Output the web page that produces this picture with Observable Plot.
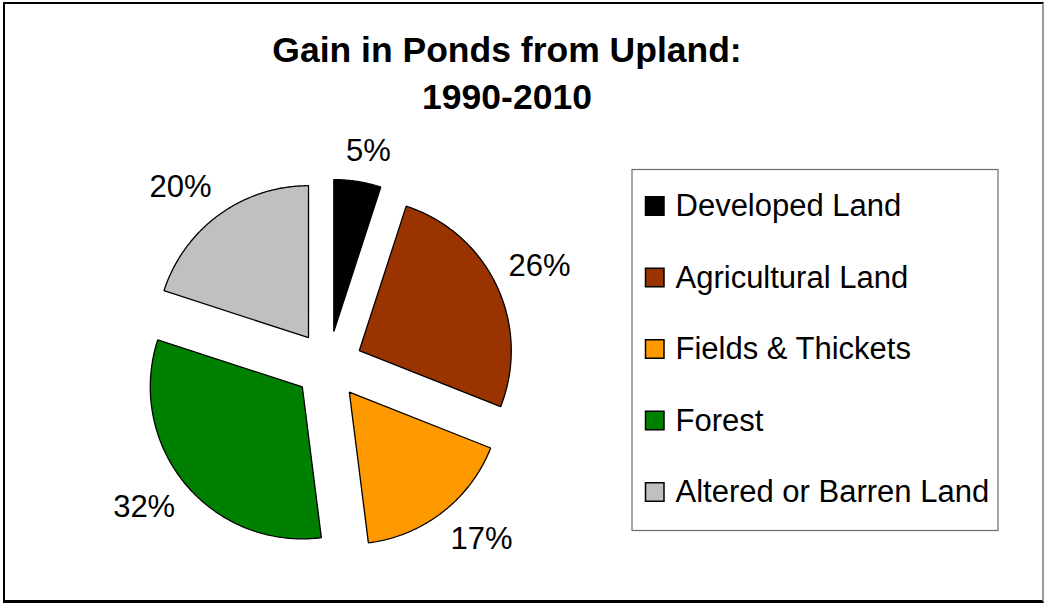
<!DOCTYPE html>
<html>
<head>
<meta charset="utf-8">
<script src="https://cdn.jsdelivr.net/npm/d3@7"></script>
<script src="https://cdn.jsdelivr.net/npm/@observablehq/plot@0.6"></script>
<style>
  html, body { margin: 0; padding: 0; background: #fff; }
  #wrap { position: relative; width: 1045px; height: 603px; overflow: hidden; font-family: "Liberation Sans", Arial, sans-serif; }
  #border { position: absolute; left: 3px; top: 2px; width: 1041px; height: 601px; box-sizing: border-box;
            border-left: 2px solid #000; border-top: 2px solid #000; border-right: 2px solid #9a9a9a; border-bottom: 3px solid #000; pointer-events: none; }
  #title { position: absolute; left: 0; top: 27px; width: 1014px; text-align: center; font-weight: bold; font-size: 35.5px; line-height: 46.6px; color: #000; }
  #chart { position: absolute; left: 0; top: 130px; }
</style>
</head>
<body>
<div id="wrap">
  <div id="title">Gain in Ponds from Upland:<br>1990-2010</div>
  <div id="chart"></div>
  <div id="border"></div>
</div>
<script>
// ---- data ----
const categories = ["Developed Land", "Agricultural Land", "Fields & Thickets", "Forest", "Altered or Barren Land"];
const shares = [5, 26, 17, 32, 20];
const colors = ["#000000", "#993300", "#FF9900", "#008000", "#C0C0C0"];
const pctLabels = ["5%", "26%", "17%", "32%", "20%"];

// ---- layout ----
const W = 1045, H = 473;
const CX = 328, CY = 234.7, R = 152, EXPLODE = 34, GAPX = 13, GAPY = 20;
const FS = 31;
const LEG = {x1: 632, y1: 39.5, x2: 998, y2: 400.5, swX: 645.5, sw: 18.5, textX: 675, firstY: 76, stepY: 71.5};

const rows = categories.map((c, i) => ({key: c, share: shares[i], label: pctLabels[i], i}));
const arcs = d3.pie().sort(null).value(d => d.share)(rows);

const slicePts = [];
const labelPts = [];
const clamp = v => Math.max(-1, Math.min(1, v));
arcs.forEach(a => {
  const key = a.data.key;
  const mid = (a.startAngle + a.endAngle) / 2;
  const ux = Math.sin(mid), uy = -Math.cos(mid);
  const ox = CX + EXPLODE * ux, oy = CY + EXPLODE * uy;
  slicePts.push({key, x: ox, y: oy});
  const n = Math.max(2, Math.ceil((a.endAngle - a.startAngle) / (Math.PI / 360)));
  for (let k = 0; k <= n; k++) {
    const t = a.startAngle + (a.endAngle - a.startAngle) * k / n;
    slicePts.push({key, x: ox + R * Math.sin(t), y: oy - R * Math.cos(t)});
  }
  const txt = a.data.label;
  const hw = ((txt.length - 1) * 0.556 + 0.889) * FS / 2;
  const hh = 11;
  const mx = CX + (R + EXPLODE) * ux, my = CY + (R + EXPLODE) * uy;
  labelPts.push({text: txt, x: mx + GAPX * ux + hw * clamp(2.5 * ux), y: my + GAPY * uy + hh * clamp(2.5 * uy)});
});

const plot = Plot.plot({
  width: W, height: H,
  marginTop: 0, marginRight: 0, marginBottom: 0, marginLeft: 0,
  x: {type: "linear", domain: [0, W], range: [0, W], axis: null},
  y: {type: "linear", domain: [0, H], range: [0, H], axis: null},
  color: {domain: categories, range: colors},
  style: {fontFamily: "'Liberation Sans', Arial, sans-serif", background: "transparent", overflow: "visible"},
  marks: [
    Plot.line(slicePts, {x: "x", y: "y", z: "key", fill: "key", stroke: "#000", strokeWidth: 1.3, curve: "linear-closed", strokeLinejoin: "miter"}),
    Plot.text(labelPts, {x: "x", y: "y", text: "text", fontSize: FS, fill: "#000", textAnchor: "middle", lineAnchor: "middle"}),
    Plot.rect([LEG], {x1: "x1", x2: "x2", y1: "y1", y2: "y2", fill: "#fff", stroke: "#6a6a6a", strokeWidth: 1.2}),
    Plot.rect(rows, {x1: () => LEG.swX, x2: () => LEG.swX + LEG.sw,
                     y1: d => LEG.firstY + d.i * LEG.stepY - LEG.sw / 2, y2: d => LEG.firstY + d.i * LEG.stepY + LEG.sw / 2,
                     fill: "key", stroke: "#000", strokeWidth: 1.5}),
    Plot.text(rows, {x: () => LEG.textX, y: d => LEG.firstY + d.i * LEG.stepY, text: "key", fontSize: FS, fill: "#000", textAnchor: "start", lineAnchor: "middle"})
  ]
});
document.getElementById("chart").appendChild(plot);
</script>
</body>
</html>
